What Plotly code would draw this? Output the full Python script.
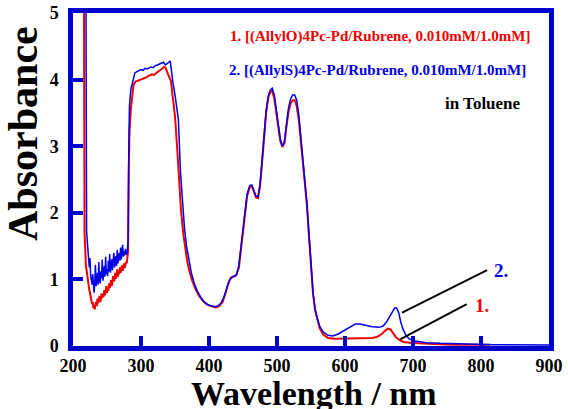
import plotly.graph_objects as go

# ---- UV-vis absorption spectra (absorbance vs wavelength / nm) ----
# 1. [(AllylO)4Pc-Pd / Rubrene]
wl_1 = [212, 216, 217, 218, 219, 220, 221, 222, 223, 224, 225, 226, 227, 228, 229, 230,
        231, 232, 233, 234, 235, 236, 237, 238, 239, 240, 241, 242, 243, 244, 245, 246,
        247, 248, 249, 250, 251, 252, 253, 254, 255, 256, 257, 258, 259, 260, 261, 262,
        263, 264, 265, 266, 267, 268, 269, 270, 271, 272, 273, 274, 275, 276, 277, 278,
        279, 280, 281, 282, 283, 285, 287, 289, 292, 295, 298, 301, 304, 307, 310, 313,
        316, 319, 322, 325, 328, 331, 334, 336, 338, 341, 344, 347, 350, 353, 356, 359,
        362, 365, 368, 371, 375, 380, 385, 390, 395, 400, 405, 410, 415, 420, 424, 428,
        432, 436, 440, 444, 448, 452, 456, 460, 463, 466, 469, 472, 475, 478, 481, 484,
        487, 490, 493, 496, 499, 502, 505, 508, 511, 514, 517, 520, 523, 526, 529, 532,
        535, 538, 541, 544, 547, 550, 553, 556, 559, 563, 568, 575, 585, 600, 620, 640,
        648, 654, 659, 663, 667, 671, 675, 680, 686, 695, 710, 730, 760, 813]
abs_1 = [5.8, 5.6, 1.70, 1.30, 1.20, 1.14, 1.05, 0.98, 0.93, 0.84, 0.80, 0.72, 0.69, 0.63, 0.66, 0.57,
         0.60, 0.55, 0.63, 0.66, 0.60, 0.71, 0.64, 0.68, 0.75, 0.66, 0.70, 0.79, 0.72, 0.77, 0.74, 0.84,
         0.76, 0.81, 0.90, 0.80, 0.86, 0.83, 0.94, 0.87, 0.92, 0.99, 0.90, 0.96, 1.05, 0.97, 0.99, 1.10,
         1.01, 1.06, 1.15, 1.04, 1.10, 1.08, 1.18, 1.10, 1.14, 1.21, 1.13, 1.19, 1.24, 1.17, 1.22, 1.26,
         1.24, 1.31, 1.42, 2.60, 3.20, 3.55, 3.75, 3.92, 3.97, 3.98, 3.99, 4.00, 4.02, 4.03, 4.05, 4.06,
         4.08, 4.07, 4.10, 4.12, 4.14, 4.17, 4.19, 4.18, 4.12, 4.05, 3.98, 3.74, 3.45, 3.00, 2.45, 2.02,
         1.70, 1.45, 1.27, 1.13, 0.99, 0.86, 0.76, 0.69, 0.64, 0.61, 0.59, 0.58, 0.60, 0.66, 0.78, 0.93,
         1.02, 1.04, 1.06, 1.18, 1.55, 1.95, 2.25, 2.39, 2.40, 2.32, 2.23, 2.22, 2.40, 2.75, 3.15, 3.50,
         3.72, 3.81, 3.83, 3.72, 3.50, 3.25, 3.07, 2.99, 3.05, 3.30, 3.52, 3.64, 3.69, 3.69, 3.60, 3.40,
         3.08, 2.80, 2.47, 2.12, 1.66, 1.16, 0.78, 0.54, 0.40, 0.26, 0.17, 0.12, 0.11, 0.11, 0.11, 0.12,
         0.14, 0.18, 0.23, 0.26, 0.25, 0.19, 0.13, 0.09, 0.06, 0.05, 0.04, 0.03, 0.02, 0.02]

# 2. [(AllylS)4Pc-Pd / Rubrene]
wl_2 = [214, 219, 220, 221, 222, 223, 224, 225, 226, 227, 228, 229, 230, 231, 232, 233,
        234, 235, 236, 237, 238, 239, 240, 241, 242, 243, 244, 245, 246, 247, 248, 249,
        250, 251, 252, 253, 254, 255, 256, 257, 258, 259, 260, 261, 262, 263, 264, 265,
        266, 267, 268, 269, 270, 271, 272, 273, 274, 275, 276, 277, 278, 279, 280, 281,
        282, 283, 285, 287, 291, 294, 297, 300, 303, 306, 309, 312, 315, 318, 321, 324,
        327, 330, 333, 336, 339, 341, 343, 345, 347, 350, 352, 355, 358, 361, 364, 367,
        370, 374, 378, 383, 388, 393, 398, 403, 408, 413, 418, 422, 426, 430, 434, 438,
        441, 444, 448, 452, 456, 460, 463, 466, 469, 472, 475, 478, 481, 484, 487, 490,
        493, 496, 499, 502, 505, 508, 511, 514, 517, 520, 523, 526, 529, 532, 535, 538,
        541, 544, 547, 550, 553, 556, 559, 563, 568, 575, 582, 590, 600, 608, 615, 622,
        630, 640, 650, 656, 661, 666, 670, 673, 676, 679, 682, 685, 689, 694, 700, 710,
        720, 740, 770, 820, 900]
abs_2 = [5.8, 5.6, 1.72, 1.52, 1.36, 1.30, 1.18, 1.32, 1.05, 1.00, 0.92, 1.08, 0.86, 0.80, 0.95, 1.22,
         0.90, 0.98, 1.10, 0.92, 1.26, 1.00, 0.94, 1.12, 1.02, 1.30, 0.98, 1.08, 1.20, 1.04, 1.34, 1.08,
         1.15, 1.05, 1.28, 1.12, 1.38, 1.10, 1.20, 1.30, 1.14, 1.24, 1.40, 1.18, 1.26, 1.35, 1.20, 1.44,
         1.24, 1.30, 1.40, 1.28, 1.48, 1.30, 1.38, 1.52, 1.34, 1.42, 1.36, 1.46, 1.40, 1.37, 1.44, 1.58,
         2.90, 3.60, 3.85, 3.95, 4.10, 4.12, 4.13, 4.15, 4.14, 4.17, 4.16, 4.18, 4.19, 4.18, 4.21, 4.22,
         4.23, 4.25, 4.26, 4.22, 4.24, 4.26, 4.28, 4.08, 3.95, 3.77, 3.62, 3.40, 2.62, 2.12, 1.76, 1.50,
         1.30, 1.10, 0.95, 0.82, 0.73, 0.66, 0.62, 0.60, 0.59, 0.60, 0.65, 0.74, 0.88, 0.99, 1.04, 1.05,
         1.08, 1.22, 1.58, 1.98, 2.28, 2.41, 2.42, 2.34, 2.25, 2.24, 2.42, 2.78, 3.18, 3.53, 3.75, 3.84,
         3.87, 3.77, 3.55, 3.30, 3.10, 3.00, 3.07, 3.34, 3.58, 3.71, 3.77, 3.77, 3.69, 3.48, 3.15, 2.84,
         2.50, 2.14, 1.68, 1.18, 0.80, 0.56, 0.42, 0.29, 0.21, 0.16, 0.15, 0.18, 0.24, 0.30, 0.33, 0.33,
         0.31, 0.29, 0.28, 0.30, 0.36, 0.45, 0.53, 0.57, 0.57, 0.50, 0.36, 0.26, 0.17, 0.11, 0.08, 0.06,
         0.05, 0.04, 0.03, 0.02, 0.015]

x_ticks = [200, 300, 400, 500, 600, 700, 800, 900]
y_ticks = [0, 1, 2, 3, 4, 5]

legend_1 = "1. [(AllylO)4Pc-Pd/Rubrene, 0.010mM/1.0mM]"
legend_2 = "2. [(AllylS)4Pc-Pd/Rubrene, 0.010mM/1.0mM]"
solvent = "in Toluene"

# ---- styling ----
RED = "#f00000"
BLUE = "#0000e6"
FRAME = "#0000cc"
SERIF = "Liberation Serif"

# leader lines for the peak callouts (wavelength, absorbance)
callout_1 = ([681, 779], [0.10, 0.63])
callout_2 = ([684, 809], [0.50, 1.14])

fig = go.Figure()
fig.add_trace(go.Scatter(x=wl_1, y=abs_1, mode="lines",
                         line=dict(color=RED, width=2), showlegend=False))
fig.add_trace(go.Scatter(x=wl_2, y=abs_2, mode="lines",
                         line=dict(color=BLUE, width=1.5), showlegend=False))
for cx, cy in (callout_1, callout_2):
    fig.add_trace(go.Scatter(x=cx, y=cy, mode="lines",
                             line=dict(color="black", width=2), showlegend=False))

axis_common = dict(showline=True, linewidth=4.5, linecolor=FRAME, mirror=True,
                   ticks="inside", ticklen=10, tickwidth=4, tickcolor=FRAME,
                   showgrid=False, zeroline=False, automargin=False,
                   tickfont=dict(family=SERIF, size=18, color="black", weight="bold"))

fig.update_xaxes(range=[200, 900], tickvals=x_ticks, ticktext=[str(v) for v in x_ticks],
                 **axis_common)
fig.update_yaxes(range=[0, 5], tickvals=y_ticks, ticktext=[str(v) for v in y_ticks],
                 ticklabelstandoff=6, **axis_common)

annots = [
    dict(text=legend_1, x=228, y=36, font=dict(size=15, color=RED)),
    dict(text=legend_2, x=227, y=70, font=dict(size=15, color=BLUE)),
    dict(text=solvent, x=443, y=103, font=dict(size=17, color="black")),
]
ann_list = []
for a in annots:
    ann_list.append(dict(text=a["text"], xref="paper", yref="paper",
                         x=(a["x"] - 73) / 476, y=(346 - a["y"]) / 333,
                         xanchor="left", yanchor="middle", showarrow=False,
                         font=dict(family=SERIF, weight="bold", **a["font"])))
ann_list += [
    dict(text="1.", x=callout_1[0][1] + 22, y=callout_1[1][1] - 0.02, xref="x", yref="y",
         showarrow=False, font=dict(family=SERIF, size=19, color=RED, weight="bold")),
    dict(text="2.", x=callout_2[0][1] + 20, y=callout_2[1][1], xref="x", yref="y",
         showarrow=False, font=dict(family=SERIF, size=19, color=BLUE, weight="bold")),
    dict(text="Absorbance", xref="paper", yref="paper", x=(23 - 73) / 476,
         y=(346 - 134) / 333, textangle=-90, showarrow=False,
         xanchor="center", yanchor="middle",
         font=dict(family=SERIF, size=42, color="black", weight="bold")),
    dict(text="Wavelength / nm", xref="paper", yref="paper", x=(314 - 73) / 476,
         y=(346 - 393) / 333, showarrow=False, xanchor="center", yanchor="middle",
         font=dict(family=SERIF, size=34, color="black", weight="bold")),
]

fig.update_layout(width=568, height=409,
                  margin=dict(l=73, r=19, t=13, b=63, pad=0),
                  paper_bgcolor="white", plot_bgcolor="white",
                  annotations=ann_list)

fig.write_html("out.html")
